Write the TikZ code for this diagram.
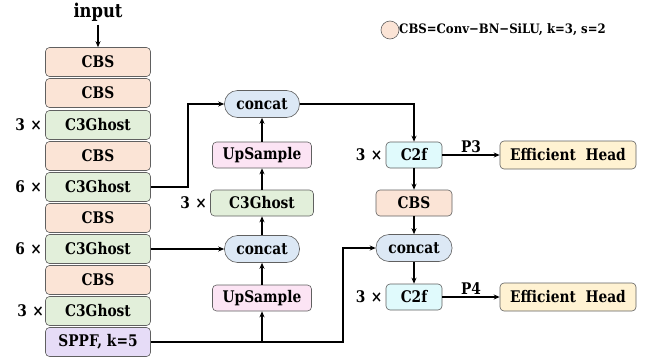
\documentclass[tikz,border=0pt]{standalone}
\usepackage{fontspec}
\setmainfont{DejaVu Serif}[FakeStretch=0.86]
\newfontfamily\legfont{DejaVu Serif}[FakeStretch=0.9]
\usetikzlibrary{arrows.meta}
\definecolor{cbsc}{HTML}{FBE4D6}
\definecolor{ghc}{HTML}{E2EFDA}
\definecolor{sppfc}{HTML}{E6DCF7}
\definecolor{catc}{HTML}{DCE8F5}
\definecolor{upc}{HTML}{FCE4F4}
\definecolor{c2fc}{HTML}{E0FAFC}
\definecolor{headc}{HTML}{FFF2D2}
\tikzset{
  x=1pt, y=-1pt,
  blk/.style={draw=gray!75!black, rounded corners=4pt, inner sep=0pt, line width=0.6pt,
    font=\bfseries\fontsize{16}{16}\selectfont},
  lcol/.style={blk, minimum width=105pt, minimum height=29pt},
  cbs/.style={fill=cbsc},
  gh/.style={fill=ghc},
  sppf/.style={fill=sppfc},
  cat/.style={blk, fill=catc, rounded corners=13pt, minimum width=75pt, minimum height=27pt},
  up/.style={blk, fill=upc, minimum width=99pt, minimum height=26pt},
  c2f/.style={blk, fill=c2fc, minimum width=56pt, minimum height=26pt},
  head/.style={blk, fill=headc, minimum width=136pt, minimum height=28pt},
  rep/.style={font=\bfseries\fontsize{16}{16}\selectfont, inner sep=3pt},
  arr/.style={line width=1.3pt, -{Stealth[length=6pt,width=5pt]}},
}
\newcommand{\rp}[1]{#1\hspace{0.35em}×}
\begin{document}
\begin{tikzpicture}
\useasboundingbox (0,0) rectangle (646,362);
% left column
\node[font=\bfseries\fontsize{19}{20}\selectfont] (in) at (98,12) {input};
\node[lcol,cbs] (b1) at (98,62) {CBS};
\node[lcol,cbs] (b2) at (98,93) {CBS};
\node[lcol,gh]  (b3) at (98,125) {C3Ghost};
\node[lcol,cbs] (b4) at (98,156) {CBS};
\node[lcol,gh]  (b5) at (98,187) {C3Ghost};
\node[lcol,cbs] (b6) at (98,218) {CBS};
\node[lcol,gh]  (b7) at (98,249) {C3Ghost};
\node[lcol,cbs] (b8) at (98,280) {CBS};
\node[lcol,gh]  (b9) at (98,311) {C3Ghost};
\node[lcol,sppf] (b10) at (98,342) {SPPF, k=5};
\node[rep,anchor=east] (r3) at (b3.west) {\rp{3}};
\node[rep,anchor=east] (r5) at (b5.west) {\rp{6}};
\node[rep,anchor=east] (r7) at (b7.west) {\rp{6}};
\node[rep,anchor=east,inner xsep=1pt] (r9) at (b9.west) {\rp{3}};
% middle column
\node[cat] (cat1) at (262,104) {concat};
\node[up]  (up1) at (262,155) {UpSample};
\node[blk,gh,minimum width=103pt,minimum height=26pt] (gm) at (262,203) {C3Ghost};
\node[cat] (cat2) at (262,249) {concat};
\node[up]  (up2) at (262,298) {UpSample};
\node[rep,anchor=east] (rm) at (gm.west) {\rp{3}};
% right column
\node[c2f] (f1) at (414,155) {C2f};
\node[blk,cbs,minimum width=76pt,minimum height=26pt] (cbr) at (414,203) {CBS};
\node[cat,minimum width=76pt] (cat3) at (414,248) {concat};
\node[c2f] (f2) at (414,297) {C2f};
\node[rep,anchor=east] (rf1) at (f1.west) {\rp{3}};
\node[rep,anchor=east] (rf2) at (f2.west) {\rp{3}};
\node[head] (h1) at (568,155) {Efficient\ \ Head};
\node[head] (h2) at (568,297) {Efficient\ \ Head};
% legend
\node[circle, draw=gray!75!black, fill=cbsc, minimum size=18pt, inner sep=0pt, line width=0.6pt] (lc) at (390,30) {};
\node[anchor=west, inner sep=0pt, font=\legfont\bfseries\fontsize{13}{13}\selectfont] (lt) at (399,30) {CBS=Conv−BN−SiLU, k=3, s=2};
% connectors
\draw[arr] (in) -- (b1);
\coordinate (k1) at (188,187);
\draw[arr] (b5.east) -- (k1) |- (cat1.west);
\draw[arr] (b7.east) -- (cat2.west);
\coordinate (k2) at (343,342);
\draw[arr] (b10.east) -- (k2) |- (cat3.west);
\draw[arr] (up2.south |- b10.east) -- (up2.south);
\draw[arr] (up2) -- (cat2);
\draw[arr] (cat2) -- (gm);
\draw[arr] (gm) -- (up1);
\draw[arr] (up1) -- (cat1);
\draw[arr] (cat1.east) -| (f1.north);
\draw[arr] (f1) -- (cbr);
\draw[arr] (cbr) -- (cat3);
\draw[arr] (cat3) -- (f2);
\draw[arr] (f1.east) -- node[above, rep, inner sep=2pt] {P3} (h1.west);
\draw[arr] (f2.east) -- node[above, rep, inner sep=2pt] {P4} (h2.west);
\end{tikzpicture}
\end{document}
